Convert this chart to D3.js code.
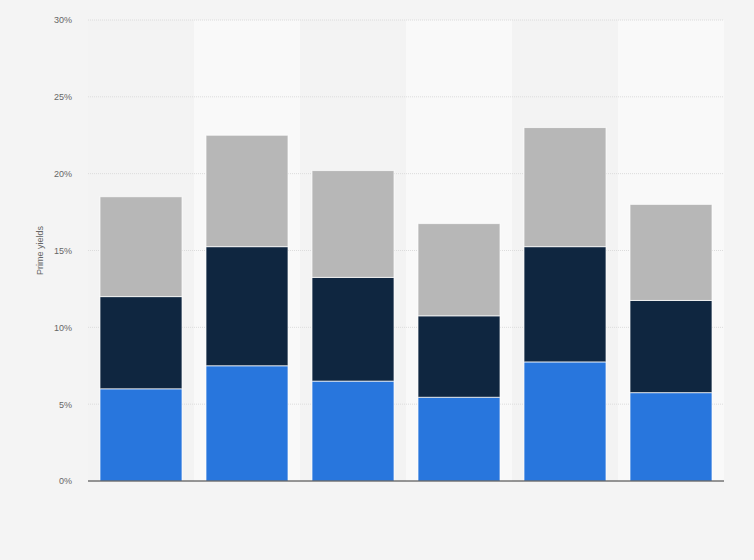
<!DOCTYPE html>
<html>
<head>
<meta charset="utf-8">
<script src="https://cdn.jsdelivr.net/npm/d3@7"></script>
<style>
  body { margin: 0; background: #f4f4f4; }
  #chart { width: 754px; height: 560px; }
  text { font-family: "Liberation Sans", Arial, sans-serif; }
</style>
</head>
<body>
<div id="chart"></div>
<script>
// Data (no category labels are shown)
const categories = ["Cat 1", "Cat 2", "Cat 3", "Cat 4", "Cat 5", "Cat 6"];
const seriesNames = ["Series 1", "Series 2", "Series 3"];
const series1 = [6.0, 7.5, 6.5, 5.45, 7.75, 5.75];
const series2 = [6.0, 7.75, 6.75, 5.3, 7.5, 6.0];
const series3 = [6.5, 7.25, 6.95, 6.0, 7.75, 6.25];
const yTicks = [0, 5, 10, 15, 20, 25, 30];

const width = 754;
const height = 560;
const margin = { top: 20, right: 30, bottom: 79, left: 88 };

const svg = d3
  .select("#chart")
  .append("svg")
  .attr("width", width)
  .attr("height", height);

const g = svg
  .append("g")
  .attr("transform", `translate(${margin.left}, ${margin.top})`);

const innerW = width - margin.left - margin.right;
const innerH = height - margin.top - margin.bottom;

// Build table for the stack
const table = categories.map((c, i) => ({
  category: c,
  "Series 1": series1[i],
  "Series 2": series2[i],
  "Series 3": series3[i],
}));

const x = d3.scaleBand().domain(categories).range([0, innerW]).paddingInner(0).paddingOuter(0);
const y = d3.scaleLinear().domain([0, 30]).range([innerH, 0]);
const color = d3.scaleOrdinal().domain(seriesNames).range(["#2876dd", "#0f2640", "#b7b7b7"]);

// Alternating column backgrounds
g.selectAll(".band")
  .data(categories)
  .enter()
  .append("rect")
  .attr("class", "band")
  .attr("x", (d) => x(d))
  .attr("y", 0)
  .attr("width", x.bandwidth())
  .attr("height", innerH)
  .attr("fill", (d, i) => (i % 2 ? "#f9f9f9" : "#f3f3f3"));

// Gridlines
g.selectAll(".grid")
  .data(yTicks.filter((t) => t > 0))
  .enter()
  .append("line")
  .attr("x1", 0)
  .attr("x2", innerW)
  .attr("y1", (d) => y(d))
  .attr("y2", (d) => y(d))
  .attr("stroke", "#dcdcdc")
  .attr("stroke-width", 1)
  .attr("stroke-dasharray", "1,1");

// Y axis labels
const yAxis = d3
  .axisLeft(y)
  .tickValues(yTicks)
  .tickSize(0)
  .tickPadding(16)
  .tickFormat((d) => d + "%");

g.append("g")
  .call(yAxis)
  .call((a) => a.select(".domain").remove())
  .selectAll("text")
  .attr("fill", "#666")
  .style("font-size", "9px");

// Stacked bars
const stacked = d3.stack().keys(seriesNames)(table);
const barPad = 12;

g.selectAll(".layer")
  .data(stacked)
  .enter()
  .append("g")
  .attr("class", "layer")
  .attr("fill", (d) => color(d.key))
  .selectAll("rect")
  .data((d) => d)
  .enter()
  .append("rect")
  .attr("x", (d) => x(d.data.category) + barPad)
  .attr("width", x.bandwidth() - barPad * 2)
  .attr("y", (d) => y(d[1]))
  .attr("height", (d) => y(d[0]) - y(d[1]))
  .attr("stroke", "#ffffff")
  .attr("stroke-opacity", 0.7)
  .style("stroke-width", "1px");

// Baseline
g.append("line")
  .attr("x1", 0)
  .attr("x2", innerW)
  .attr("y1", y(0))
  .attr("y2", y(0))
  .attr("stroke", "#333")
  .attr("stroke-width", 1);

// Y axis title
svg
  .append("text")
  .attr("transform", `translate(43, ${margin.top + innerH / 2}) rotate(-90)`)
  .attr("text-anchor", "middle")
  .attr("fill", "#666")
  .style("font-size", "9px")
  .text("Prime yields");
</script>
</body>
</html>
